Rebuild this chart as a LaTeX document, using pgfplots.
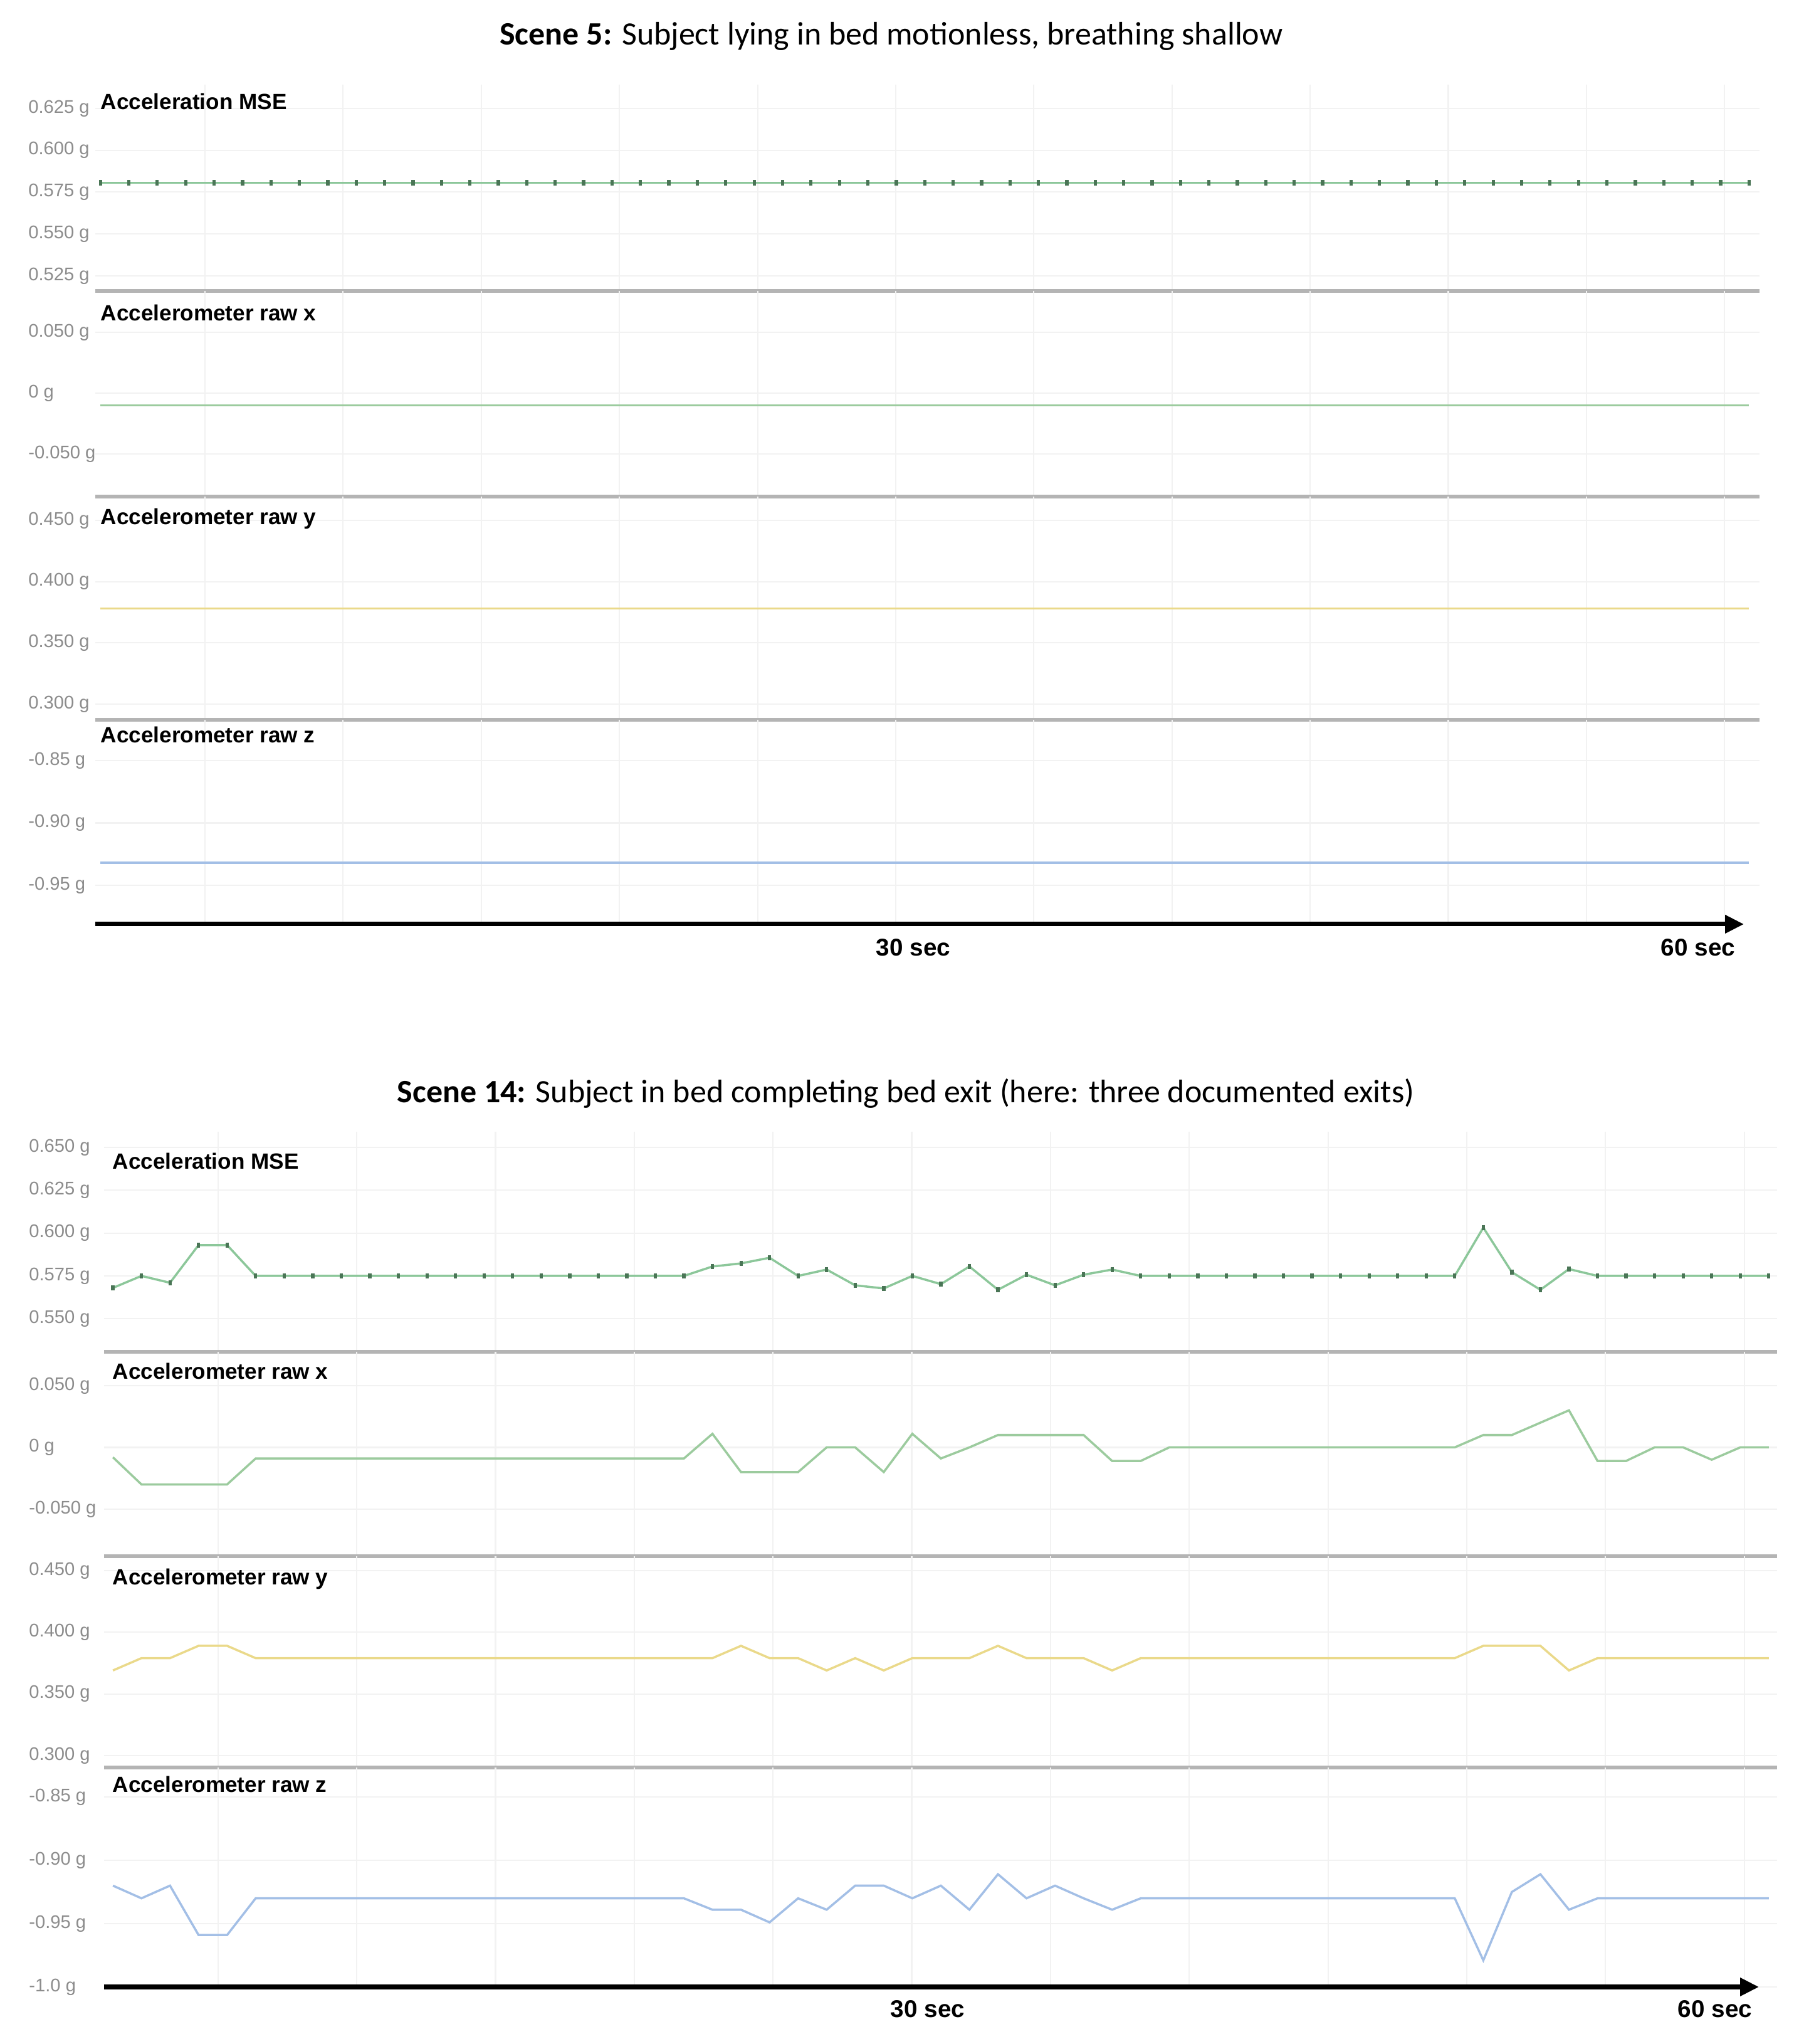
\documentclass[border=0pt]{standalone}
\usepackage{fontspec}
\setmainfont{Liberation Sans}
\newfontfamily\titlefont{Carlito}
\usepackage{pgfplots}
\usepackage{pgfplotstable}
\pgfplotsset{compat=1.18}
\usetikzlibrary{arrows.meta}

\definecolor{tickgray}{HTML}{8C8C8C}
\definecolor{sepgray}{HTML}{B4B4B4}
\definecolor{gridgray}{HTML}{F2F2F2}
\definecolor{msegreen}{HTML}{8CC79A}
\definecolor{markgreen}{HTML}{4A7556}
\definecolor{xgreen}{HTML}{9CCB9E}
\definecolor{yyellow}{HTML}{EAD98A}
\definecolor{zblue}{HTML}{A3BFE6}

% scene 5: flat signals, one row per sample
\pgfplotstableread{
i mse x y z
0 0.5805 -0.010 0.378 -0.932
1 0.5805 -0.010 0.378 -0.932
2 0.5805 -0.010 0.378 -0.932
3 0.5805 -0.010 0.378 -0.932
4 0.5805 -0.010 0.378 -0.932
5 0.5805 -0.010 0.378 -0.932
6 0.5805 -0.010 0.378 -0.932
7 0.5805 -0.010 0.378 -0.932
8 0.5805 -0.010 0.378 -0.932
9 0.5805 -0.010 0.378 -0.932
10 0.5805 -0.010 0.378 -0.932
11 0.5805 -0.010 0.378 -0.932
12 0.5805 -0.010 0.378 -0.932
13 0.5805 -0.010 0.378 -0.932
14 0.5805 -0.010 0.378 -0.932
15 0.5805 -0.010 0.378 -0.932
16 0.5805 -0.010 0.378 -0.932
17 0.5805 -0.010 0.378 -0.932
18 0.5805 -0.010 0.378 -0.932
19 0.5805 -0.010 0.378 -0.932
20 0.5805 -0.010 0.378 -0.932
21 0.5805 -0.010 0.378 -0.932
22 0.5805 -0.010 0.378 -0.932
23 0.5805 -0.010 0.378 -0.932
24 0.5805 -0.010 0.378 -0.932
25 0.5805 -0.010 0.378 -0.932
26 0.5805 -0.010 0.378 -0.932
27 0.5805 -0.010 0.378 -0.932
28 0.5805 -0.010 0.378 -0.932
29 0.5805 -0.010 0.378 -0.932
30 0.5805 -0.010 0.378 -0.932
31 0.5805 -0.010 0.378 -0.932
32 0.5805 -0.010 0.378 -0.932
33 0.5805 -0.010 0.378 -0.932
34 0.5805 -0.010 0.378 -0.932
35 0.5805 -0.010 0.378 -0.932
36 0.5805 -0.010 0.378 -0.932
37 0.5805 -0.010 0.378 -0.932
38 0.5805 -0.010 0.378 -0.932
39 0.5805 -0.010 0.378 -0.932
40 0.5805 -0.010 0.378 -0.932
41 0.5805 -0.010 0.378 -0.932
42 0.5805 -0.010 0.378 -0.932
43 0.5805 -0.010 0.378 -0.932
44 0.5805 -0.010 0.378 -0.932
45 0.5805 -0.010 0.378 -0.932
46 0.5805 -0.010 0.378 -0.932
47 0.5805 -0.010 0.378 -0.932
48 0.5805 -0.010 0.378 -0.932
49 0.5805 -0.010 0.378 -0.932
50 0.5805 -0.010 0.378 -0.932
51 0.5805 -0.010 0.378 -0.932
52 0.5805 -0.010 0.378 -0.932
53 0.5805 -0.010 0.378 -0.932
54 0.5805 -0.010 0.378 -0.932
55 0.5805 -0.010 0.378 -0.932
56 0.5805 -0.010 0.378 -0.932
57 0.5805 -0.010 0.378 -0.932
58 0.5805 -0.010 0.378 -0.932
}\topdata

% scene 14: bed exit
\pgfplotstableread{
i mse x y z
0 0.568 -0.008 0.369 -0.920
1 0.575 -0.030 0.379 -0.930
2 0.571 -0.030 0.379 -0.920
3 0.593 -0.030 0.389 -0.959
4 0.593 -0.030 0.389 -0.959
5 0.575 -0.009 0.379 -0.930
6 0.575 -0.009 0.379 -0.930
7 0.575 -0.009 0.379 -0.930
8 0.575 -0.009 0.379 -0.930
9 0.575 -0.009 0.379 -0.930
10 0.575 -0.009 0.379 -0.930
11 0.575 -0.009 0.379 -0.930
12 0.575 -0.009 0.379 -0.930
13 0.575 -0.009 0.379 -0.930
14 0.575 -0.009 0.379 -0.930
15 0.575 -0.009 0.379 -0.930
16 0.575 -0.009 0.379 -0.930
17 0.575 -0.009 0.379 -0.930
18 0.575 -0.009 0.379 -0.930
19 0.575 -0.009 0.379 -0.930
20 0.575 -0.009 0.379 -0.930
21 0.5805 0.011 0.379 -0.939
22 0.5823 -0.020 0.389 -0.939
23 0.5856 -0.020 0.379 -0.949
24 0.575 -0.020 0.379 -0.930
25 0.5787 0.000 0.369 -0.939
26 0.5695 0.000 0.379 -0.920
27 0.5677 -0.020 0.369 -0.920
28 0.575 0.011 0.379 -0.930
29 0.5702 -0.009 0.379 -0.920
30 0.5805 0.000 0.379 -0.939
31 0.5669 0.010 0.389 -0.911
32 0.5757 0.010 0.379 -0.930
33 0.5695 0.010 0.379 -0.920
34 0.5757 0.010 0.379 -0.930
35 0.5787 -0.011 0.369 -0.939
36 0.575 -0.011 0.379 -0.930
37 0.575 0.000 0.379 -0.930
38 0.575 0.000 0.379 -0.930
39 0.575 0.000 0.379 -0.930
40 0.575 0.000 0.379 -0.930
41 0.575 0.000 0.379 -0.930
42 0.575 0.000 0.379 -0.930
43 0.575 0.000 0.379 -0.930
44 0.575 0.000 0.379 -0.930
45 0.575 0.000 0.379 -0.930
46 0.575 0.000 0.379 -0.930
47 0.575 0.000 0.379 -0.930
48 0.6032 0.010 0.389 -0.979
49 0.5772 0.010 0.389 -0.925
50 0.5669 0.020 0.389 -0.911
51 0.579 0.030 0.369 -0.939
52 0.575 -0.011 0.379 -0.930
53 0.575 -0.011 0.379 -0.930
54 0.575 0.000 0.379 -0.930
55 0.575 0.000 0.379 -0.930
56 0.575 -0.010 0.379 -0.930
57 0.575 0.000 0.379 -0.930
58 0.575 0.000 0.379 -0.930
}\botdata

\pgfplotsset{
  panel/.style={
    scale only axis,
    anchor=south west,
    axis lines*=left,
    y axis line style={draw=none},
    x axis line style={sepgray, line width=1.5pt},
    tick style={draw=none},
    scaled y ticks=false,
    xtick={3.68,8.54,...,58},
    xticklabels={},
    xmajorgrids, ymajorgrids,
    grid style={gridgray, line width=0.6pt},
    yticklabel style={anchor=west, font=\fontsize{8.3}{10}\selectfont, text=tickgray},
  },
  toppanel/.style={panel, width=26.55cm, xmin=-0.18, xmax=58.37,
    yticklabel style={xshift=-1.19cm}},
  botpanel/.style={panel, width=26.69cm, xmin=-0.31, xmax=58.29,
    yticklabel style={xshift=-1.32cm}},
  timeaxis/.style={x axis line style={black, line width=2pt,
    -{Triangle[length=0.3cm,width=0.28cm]}, shorten >=#1}},
  mseline/.style={msegreen, line width=1pt, mark=|, mark size=1.2pt,
    mark options={markgreen, line width=1.5pt}},
}

\begin{document}
\begin{tikzpicture}
\useasboundingbox (0,0) rectangle (28.69,32.60);

\node[font=\titlefont\fontsize{14.8}{17}\selectfont] at (14.22,32.02)
  {\textbf{Scene 5:} Subject lying in bed motionless, breathing shallow};

\begin{axis}[toppanel, at={(1.52cm,27.96cm)}, height=3.29cm,
  ymin=0.5160, ymax=0.6392, ytick={0.525,0.55,0.575,0.6,0.625},
  yticklabels={0.525 g,0.550 g,0.575 g,0.600 g,0.625 g}]
\addplot[mseline] table[x=i,y=mse]{\topdata};
\end{axis}

\begin{axis}[toppanel, at={(1.52cm,24.68cm)}, height=3.28cm,
  ymin=-0.085, ymax=0.084, ytick={-0.05,0,0.05},
  yticklabels={-0.050 g,0 g,0.050 g}]
\addplot[xgreen, line width=1pt] table[x=i,y=x]{\topdata};
\end{axis}

\begin{axis}[toppanel, at={(1.52cm,21.12cm)}, height=3.56cm,
  ymin=0.2872, ymax=0.4694, ytick={0.3,0.35,0.4,0.45},
  yticklabels={0.300 g,0.350 g,0.400 g,0.450 g}]
\addplot[yyellow, line width=1pt] table[x=i,y=y]{\topdata};
\end{axis}

\begin{axis}[toppanel, timeaxis=0.25cm, at={(1.52cm,17.86cm)}, height=3.26cm,
  ymin=-0.9812, ymax=-0.8173, ytick={-0.95,-0.9,-0.85},
  yticklabels={-0.95 g,-0.90 g,-0.85 g}]
\addplot[zblue, line width=1pt] table[x=i,y=z]{\topdata};
\end{axis}

\begin{scope}[font=\bfseries\fontsize{10}{12}\selectfont]
\node[anchor=west, inner sep=0] at (1.60,30.98) {Acceleration MSE};
\node[anchor=west, inner sep=0] at (1.60,27.61) {Accelerometer raw x};
\node[anchor=west, inner sep=0] at (1.60,24.33) {Accelerometer raw y};
\node[anchor=west, inner sep=0] at (1.60,20.88) {Accelerometer raw z};
\end{scope}
\node[font=\bfseries\fontsize{11}{13}\selectfont] at (14.57,17.49) {30 sec};
\node[font=\bfseries\fontsize{11}{13}\selectfont] at (27.09,17.49) {60 sec};

\node[font=\titlefont\fontsize{14.8}{17}\selectfont] at (14.45,15.16)
  {\textbf{Scene 14:} Subject in bed completing bed exit (here: three documented exits)};

\begin{axis}[botpanel, at={(1.66cm,11.04cm)}, height=3.51cm,
  ymin=0.5307, ymax=0.6592, ytick={0.55,0.575,0.6,0.625,0.65},
  yticklabels={0.550 g,0.575 g,0.600 g,0.625 g,0.650 g}]
\addplot[mseline] table[x=i,y=mse]{\botdata};
\end{axis}

\begin{axis}[botpanel, at={(1.66cm,7.78cm)}, height=3.26cm,
  ymin=-0.0881, ymax=0.0774, ytick={-0.05,0,0.05},
  yticklabels={-0.050 g,0 g,0.050 g}]
\addplot[xgreen, line width=1pt] table[x=i,y=x]{\botdata};
\end{axis}

\begin{axis}[botpanel, at={(1.66cm,4.41cm)}, height=3.37cm,
  ymin=0.2903, ymax=0.4617, ytick={0.3,0.35,0.4,0.45},
  yticklabels={0.300 g,0.350 g,0.400 g,0.450 g}]
\addplot[yyellow, line width=1pt] table[x=i,y=y]{\botdata};
\end{axis}

\begin{axis}[botpanel, timeaxis=0.29cm, at={(1.66cm,0.91cm)}, height=3.50cm,
  ymin=-1.0, ymax=-0.8267, ytick={-1.0,-0.95,-0.9,-0.85},
  yticklabels={-1.0 g,-0.95 g,-0.90 g,-0.85 g}]
\addplot[zblue, line width=1pt] table[x=i,y=z]{\botdata};
\end{axis}

\begin{scope}[font=\bfseries\fontsize{10}{12}\selectfont]
\node[anchor=west, inner sep=0] at (1.79,14.08) {Acceleration MSE};
\node[anchor=west, inner sep=0] at (1.79,10.73) {Accelerometer raw x};
\node[anchor=west, inner sep=0] at (1.79,7.42) {Accelerometer raw y};
\node[anchor=west, inner sep=0] at (1.79,4.14) {Accelerometer raw z};
\end{scope}
\node[font=\bfseries\fontsize{11}{13}\selectfont] at (14.80,0.56) {30 sec};
\node[font=\bfseries\fontsize{11}{13}\selectfont] at (27.36,0.56) {60 sec};
\end{tikzpicture}
\end{document}
